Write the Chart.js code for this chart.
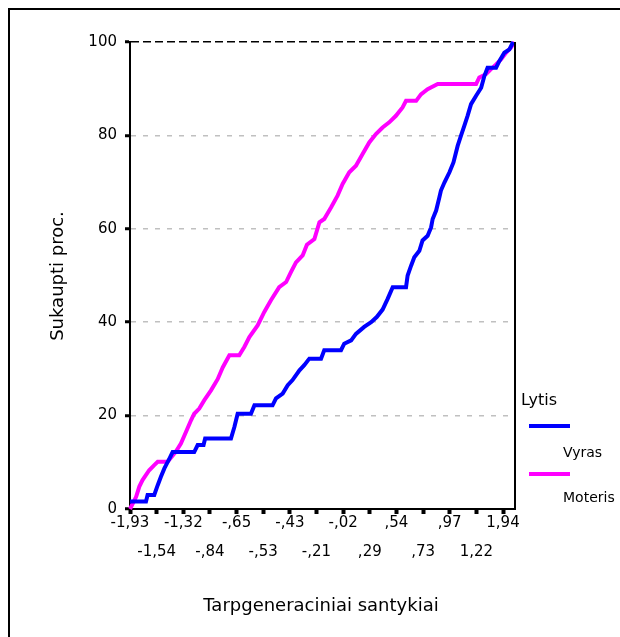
<!DOCTYPE html>
<html lang="lt">
<head>
<meta charset="utf-8">
<title>Sukaupti proc.</title>
<script src="https://cdn.jsdelivr.net/npm/chart.js@4.4.0/dist/chart.umd.min.js"></script>
<style>
  html, body { margin: 0; padding: 0; background: #fff; overflow: hidden; }
  #wrap  { position: relative; width: 620px; height: 637px; }
  #frame { position: absolute; left: 8px; top: 8px; width: 640px; height: 660px;
           border-left: 2px solid #000; border-top: 2px solid #000; pointer-events: none; }
</style>
</head>
<body>
<div id="wrap">
  <canvas id="chart" width="620" height="637"></canvas>
  <div id="frame"></div>
</div>
<script>
// ── Data ──────────────────────────────────────────────
// x = category index (one tick label every 10 categories), y = cumulative %
const X_TICK_LABELS = ['-1,93', '-1,54', '-1,32', '-,84', '-,65', '-,53', '-,43', '-,21',
                       '-,02', ',29', ',54', ',73', ',97', '1,22', '1,94'];
const TICK_EVERY = 10;
const X_MAX      = 144.5;

const VYRAS_X   = [0, 6, 6.6, 9.1, 10.4, 11.6, 12.9, 14.8, 16, 24.1, 25.4, 27.6, 28.2, 37.9,
                   39.2, 40.4, 45.4, 46.7, 53.5, 54.8, 57.3, 59.2, 61, 63.6, 65.4, 67.3, 71.7,
                   72.9, 79.2, 80.4, 83, 84.8, 87.9, 90.5, 92.6, 94.8, 96.7, 98.6, 103.6, 104.2,
                   105.5, 106.7, 108.6, 109.8, 111.7, 113, 113.6, 114.9, 116.1, 116.7, 118,
                   119.9, 121.4, 123, 124.2, 125.5, 126.7, 128, 129.9, 131.8, 133, 134.2,
                   137.4, 138.6, 140.5, 142.4, 143.8];
const VYRAS_PCT = [1.6, 1.6, 3, 3, 5.1, 6.9, 8.7, 10.8, 12.2, 12.2, 13.7, 13.7, 15.1, 15.1,
                   17.6, 20.4, 20.4, 22.2, 22.2, 23.7, 24.7, 26.5, 27.6, 29.7, 30.8, 32.2, 32.2,
                   34, 34, 35.4, 36.1, 37.5, 39, 40, 41.1, 42.7, 45, 47.5, 47.5, 50,
                   52.1, 53.9, 55.3, 57.5, 58.5, 60.3, 62.1, 63.9, 66.7, 68.2, 69.9,
                   72.1, 74.2, 77.8, 79.9, 82.1, 84.2, 86.7, 88.5, 90.2, 92.7, 94.5,
                   94.5, 95.9, 97.7, 98.4, 100];

const MOTERIS_X   = [0, 2.3, 3.5, 4.7, 7.2, 9.1, 10.4, 14.1, 17.1, 19.1, 21, 22.9, 24.1, 26,
                     27.9, 30.4, 32.9, 34.8, 37.3, 41, 42.9, 44.8, 47.9, 50.4, 52.9, 56, 58.6,
                     60.4, 62.3, 64.8, 66.4, 69.2, 71.1, 72.9, 75.5, 77.9, 79.8, 82.3, 84.8,
                     87.3, 89.8, 92.3, 94.8, 97.3, 99.8, 102.3, 103.6, 107.4, 109.2, 111.7,
                     115.5, 129.9, 131.1, 133.6, 135.5, 137.4, 139.3, 141.1, 143, 144.3];
const MOTERIS_PCT = [0, 2.6, 4.8, 6.2, 8.3, 9.4, 10.1, 10.1, 12.2, 14, 16.5, 19, 20.4, 21.5,
                     23.3, 25.4, 27.8, 30.3, 32.9, 32.9, 34.7, 36.8, 39.3, 42.2, 44.7, 47.5, 48.6,
                     50.7, 52.8, 54.3, 56.6, 57.8, 61.4, 62.1, 64.6, 67.1, 69.6, 72.1, 73.5,
                     76, 78.5, 80.3, 81.7, 82.8, 84.2, 86, 87.4, 87.4, 88.8, 89.9,
                     91, 91, 92.4, 93.1, 94.2, 95.2, 96.3, 97.7, 98.8, 100];

// ── Colours / Fonts ───────────────────────────────────
const COLORS = {
  vyras:   '#0000ff',
  moteris: '#ff00ff',
  grid:    '#c0c0c0',
  ink:     '#000000',
};
const FONT = 'DejaVu Sans';

function toPoints(xs, ys) {
  return xs.map((x, i) => ({ x, y: ys[i] }));
}

// ── Extra drawing: right frame, titles, legend ────────
const decorPlugin = {
  id: 'decor',
  afterDraw(chart) {
    const { ctx, chartArea: a } = chart;
    ctx.save();

    // right side of the plot box
    ctx.strokeStyle = COLORS.ink;
    ctx.lineWidth = 2;
    ctx.beginPath();
    ctx.moveTo(a.right, a.top);
    ctx.lineTo(a.right, a.bottom);
    ctx.stroke();

    ctx.fillStyle = COLORS.ink;
    ctx.font = `18px '${FONT}'`;
    ctx.textAlign = 'center';
    ctx.textBaseline = 'alphabetic';
    ctx.fillText('Tarpgeneraciniai santykiai', 321, 611);

    ctx.save();
    ctx.translate(63, 276);
    ctx.rotate(-Math.PI / 2);
    ctx.fillText('Sukaupti proc.', 0, 0);
    ctx.restore();

    // legend
    ctx.textAlign = 'left';
    ctx.font = `16px '${FONT}'`;
    ctx.fillText('Lytis', 521, 405);
    ctx.font = `14px '${FONT}'`;
    ctx.fillText('Vyras', 563, 457);
    ctx.fillText('Moteris', 563, 502);

    ctx.lineWidth = 4;
    ctx.strokeStyle = COLORS.vyras;
    ctx.beginPath(); ctx.moveTo(529, 426); ctx.lineTo(570, 426); ctx.stroke();
    ctx.strokeStyle = COLORS.moteris;
    ctx.beginPath(); ctx.moveTo(529, 474); ctx.lineTo(570, 474); ctx.stroke();

    ctx.restore();
  }
};

// ── Chart ─────────────────────────────────────────────
const lineStyle = { borderWidth: 4, pointRadius: 0, tension: 0, clip: false, fill: false };

new Chart(document.getElementById('chart'), {
  type: 'line',
  data: {
    datasets: [
      { label: 'Vyras',   data: toPoints(VYRAS_X, VYRAS_PCT),     borderColor: COLORS.vyras,   ...lineStyle },
      { label: 'Moteris', data: toPoints(MOTERIS_X, MOTERIS_PCT), borderColor: COLORS.moteris, ...lineStyle },
    ]
  },
  options: {
    responsive: false,
    animation:  false,
    layout: { autoPadding: false, padding: { left: 0, top: 42, right: 105, bottom: 0 } },
    plugins: { legend: { display: false }, tooltip: { enabled: false } },
    scales: {
      x: {
        type: 'linear',
        min: 0,
        max: X_MAX,
        afterFit: s => { s.height = 128; },
        afterBuildTicks: s => { s.ticks = X_TICK_LABELS.map((_, i) => ({ value: i * TICK_EVERY })); },
        ticks: {
          autoSkip: false,
          maxRotation: 0,
          padding: -5,
          color: COLORS.ink,
          font: { family: FONT, size: 15, lineHeight: 29 / 15 },
          callback: (v, i) => (i % 2 ? ['', X_TICK_LABELS[i]] : [X_TICK_LABELS[i]]),
        },
        grid:   { drawOnChartArea: false, drawTicks: true, tickLength: 5, tickWidth: 4, tickColor: COLORS.ink },
        border: { color: COLORS.ink, width: 2 },
      },
      y: {
        min: 0,
        max: 100,
        afterFit: s => { s.width = 130; },
        ticks: {
          stepSize: 20,
          padding: 8,
          color: COLORS.ink,
          font: { family: FONT, size: 15 },
        },
        grid: {
          drawTicks: true,
          tickLength: 5,
          tickWidth: 3,
          tickColor: COLORS.ink,
          tickBorderDash: [],
          color: c => (c.tick.value === 0 ? 'rgba(0,0,0,0)' : c.tick.value === 100 ? COLORS.ink : COLORS.grid),
          lineWidth: 1.5,
        },
        border: {
          color: COLORS.ink,
          width: 2,
          dash: c => (c.tick && c.tick.value === 100 ? [8, 4] : [5, 7]),
        },
      },
    },
  },
  plugins: [decorPlugin],
});
</script>
</body>
</html>
